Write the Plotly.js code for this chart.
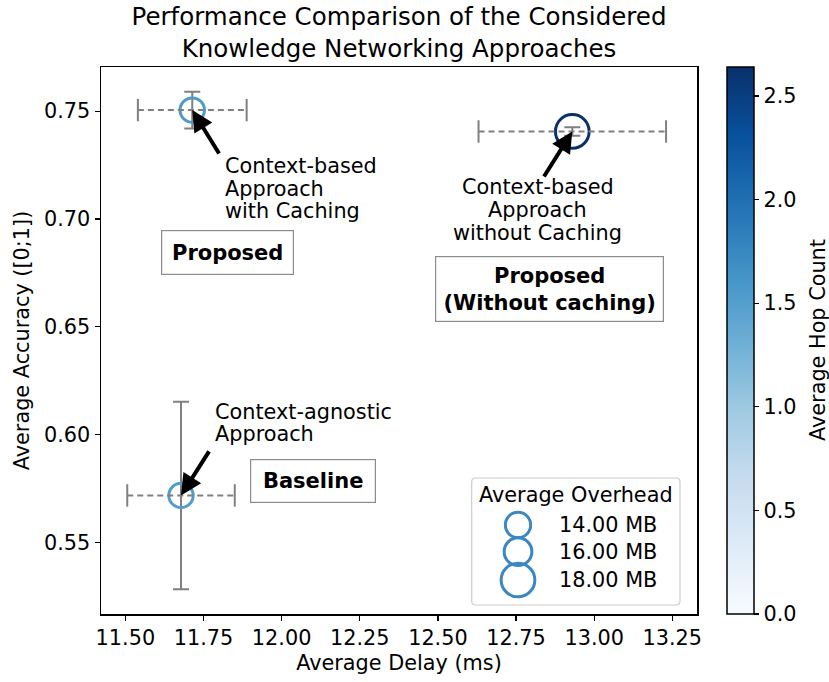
<!DOCTYPE html>
<html>
<head>
<meta charset="utf-8">
<script src="https://cdn.plot.ly/plotly-3.0.1.min.js"></script>
<style>html,body{margin:0;padding:0;background:#fff;}#chart{width:829px;height:682px;}</style>
</head>
<body>
<div id="chart"></div>
<script>
// ---- data ----
const approaches = ['Context-based Approach with Caching', 'Context-based Approach without Caching', 'Context-agnostic Approach'];
const delay = [11.714, 12.93, 11.678];          // ms
const delayErr = [0.174, 0.30, 0.172];
const accuracy = [0.7505, 0.7406, 0.5718];
const accuracyErr = [0.0085, 0.002, 0.0435];
const hopCount = [1.55, 2.64, 1.52];
const overhead = [13.3, 18.0, 13.2];            // MB
const legendOverhead = [14, 16, 18];
const legendLabels = ['14.00 MB', '16.00 MB', '18.00 MB'];
const xTicks = [11.5, 11.75, 12.0, 12.25, 12.5, 12.75, 13.0, 13.25];
const yTicks = [0.55, 0.60, 0.65, 0.70, 0.75];
const cbTicks = [0, 0.5, 1.0, 1.5, 2.0, 2.5];

// ---- styling ----
const FONT = 'DejaVu Sans, Liberation Sans, sans-serif';
const FS = 20.8;
const GRAY = '#808080';
const blues = [[0, '#f7fbff'], [0.125, '#deebf7'], [0.25, '#c6dbef'], [0.375, '#9ecae1'], [0.5, '#6baed6'], [0.625, '#4292c6'], [0.75, '#2171b5'], [0.875, '#08519c'], [1, '#08306b']];
const legendOuter = [28.3, 30.7, 36.7];  // outer diameter in px of legend circles
const RING = 3;
function outerFor(mb) {
  if (mb <= legendOverhead[0]) return legendOuter[0] + (mb - legendOverhead[0]) * 1.2;
  for (let i = 0; i < legendOverhead.length - 1; i++) {
    if (mb <= legendOverhead[i + 1]) {
      const t = (mb - legendOverhead[i]) / (legendOverhead[i + 1] - legendOverhead[i]);
      return legendOuter[i] + t * (legendOuter[i + 1] - legendOuter[i]);
    }
  }
  return legendOuter[legendOuter.length - 1];
}
const markerSizes = overhead.map(m => outerFor(m) - RING);

const PL = 101, PR = 697, PT = 67, PB = 614;
const px = v => (v - PL) / (PR - PL);
const py = v => (PB - v) / (PB - PT);

const traces = [];
traces.push({
  type: 'scatter', mode: 'markers', x: delay, y: accuracy, text: approaches,
  marker: {
    symbol: 'circle-open', size: markerSizes, color: hopCount, cmin: 0, cmax: 2.64, opacity: 1,
    colorscale: blues, line: {width: RING},
    colorbar: {
      thickness: 27, thicknessmode: 'pixels', len: 547, lenmode: 'pixels',
      x: 1.0498, xanchor: 'left', xpad: 0, y: 0, yanchor: 'bottom', ypad: 0,
      outlinewidth: 1.5, outlinecolor: '#000',
      ticks: 'outside', ticklen: 5, tickwidth: 1.2, tickcolor: '#000',
      tickvals: cbTicks, ticktext: cbTicks.map(v => v.toFixed(1)),
      tickfont: {family: FONT, size: FS, color: '#000'}
    }
  },
  error_y: {type: 'data', array: accuracyErr, visible: true, color: GRAY, thickness: 2, width: 8},
  showlegend: false, hoverinfo: 'skip'
});
for (let i = 0; i < delay.length; i++) {
  traces.push({
    type: 'scatter', mode: 'lines+markers',
    x: [delay[i] - delayErr[i], delay[i] + delayErr[i]], y: [accuracy[i], accuracy[i]],
    line: {color: GRAY, width: 2, dash: '6px,4px'},
    marker: {symbol: 'line-ns', size: 16, line: {width: 2, color: GRAY}, color: GRAY},
    showlegend: false, hoverinfo: 'skip'
  });
}

// annotations
const ann = [];
function txt(x, y, t, xanchor, opts) {
  ann.push(Object.assign({x: x, y: y, xref: 'x', yref: 'y', text: t, showarrow: false, xanchor: xanchor, yanchor: 'middle',
    font: {family: FONT, size: FS, color: '#000'}}, opts || {}));
}
txt(11.8114, 0.7246, 'Context-based', 'left');
txt(11.8114, 0.7141, 'Approach', 'left');
txt(11.8114, 0.7037, 'with Caching', 'left');
txt(12.8188, 0.7148, 'Context-based', 'center');
txt(12.8188, 0.7042, 'Approach', 'center');
txt(12.8188, 0.6935, 'without Caching', 'center');
txt(11.7794, 0.6106, 'Context-agnostic', 'left');
txt(11.7794, 0.6003, 'Approach', 'left');
// arrows: tails in data coords, tips at the data points
const tails = [[11.8028, 0.7297], [12.8364, 0.7190], [11.7708, 0.5929]];
for (let i = 0; i < delay.length; i++) {
  ann.push({x: delay[i], y: accuracy[i], xref: 'x', yref: 'y', ax: tails[i][0], ay: tails[i][1], axref: 'x', ayref: 'y',
    text: '', showarrow: true, arrowhead: 2, arrowsize: 1.05, arrowwidth: 4, arrowcolor: '#000', standoff: 0, startstandoff: 0});
}
// boxed labels
function boxed(x, y, t, w, h) {
  ann.push({x: x, y: y, xref: 'x', yref: 'y', text: t, showarrow: false, xanchor: 'center', yanchor: 'middle',
    width: w, height: h, borderpad: 0, borderwidth: 1.2, bordercolor: '#8c8c8c', bgcolor: '#fff',
    font: {family: FONT, size: 21, color: '#000'}});
}
boxed(11.8274, 0.6845, '<b>Proposed</b>', 131, 43);
boxed(12.8572, 0.6675, '<b>Proposed</b><br><b>(Without caching)</b>', 227, 64);
boxed(12.1004, 0.5785, '<b>Baseline</b>', 124, 42);

// colorbar title
ann.push({x: px(818), y: py(340), xref: 'paper', yref: 'paper', text: 'Average Hop Count', textangle: -90,
  showarrow: false, xanchor: 'center', yanchor: 'middle', font: {family: FONT, size: FS, color: '#000'}});

// size legend (rounded frame)
const bx0 = px(471.7), bx1 = px(680), by0 = py(605), by1 = py(478);
const rx = 4 / (PR - PL), ry = 4 / (PB - PT);
const framePath = `M${bx0 + rx},${by0} L${bx1 - rx},${by0} Q${bx1},${by0} ${bx1},${by0 + ry} L${bx1},${by1 - ry} Q${bx1},${by1} ${bx1 - rx},${by1} ` +
  `L${bx0 + rx},${by1} Q${bx0},${by1} ${bx0},${by1 - ry} L${bx0},${by0 + ry} Q${bx0},${by0} ${bx0 + rx},${by0} Z`;
const shapes = [{type: 'path', xref: 'paper', yref: 'paper', path: framePath,
  line: {color: '#cccccc', width: 1.2}, fillcolor: 'rgba(255,255,255,0.8)', layer: 'above'}];
const legY = [525, 551.7, 580];
ann.push({x: px(575.5), y: py(495), xref: 'paper', yref: 'paper', text: 'Average Overhead', showarrow: false,
  xanchor: 'center', yanchor: 'middle', font: {family: FONT, size: FS, color: '#000'}});
for (let i = 0; i < legendOverhead.length; i++) {
  const r = (outerFor(legendOverhead[i]) - RING) / 2;
  shapes.push({type: 'circle', xref: 'paper', yref: 'paper', xsizemode: 'pixel', ysizemode: 'pixel',
    xanchor: px(518), yanchor: py(legY[i]), x0: -r, x1: r, y0: -r, y1: r,
    line: {color: '#3a87c4', width: RING}, fillcolor: 'rgba(0,0,0,0)', layer: 'above'});
  ann.push({x: px(556.7), y: py(legY[i]), xref: 'paper', yref: 'paper', text: legendLabels[i], showarrow: false,
    xanchor: 'left', yanchor: 'middle', font: {family: FONT, size: FS, color: '#000'}});
}

const axisCommon = {
  showline: true, mirror: true, linecolor: '#000', linewidth: 1.5, showgrid: false, zeroline: false,
  ticks: 'outside', ticklen: 5, tickwidth: 1.2, tickcolor: '#000',
  tickfont: {family: FONT, size: FS, color: '#000'}, tickformat: '.2f'
};
const layout = {
  width: 829, height: 682, paper_bgcolor: '#fff', plot_bgcolor: '#fff',
  margin: {l: PL, r: 829 - PR, t: PT, b: 682 - PB, pad: 0},
  showlegend: false, hovermode: false,
  font: {family: FONT, color: '#000'},
  title: {text: 'Performance Comparison of the Considered<br>Knowledge Networking Approaches',
    x: (PL + PR) / 2 / 829, xanchor: 'center', y: 1 - 25 / 682, yanchor: 'middle', yref: 'container',
    font: {family: FONT, size: 24.5, color: '#000'}},
  xaxis: Object.assign({}, axisCommon, {range: [11.422, 13.329], tickvals: xTicks,
    title: {text: 'Average Delay (ms)', font: {family: FONT, size: FS, color: '#000'}, standoff: 6}}),
  yaxis: Object.assign({}, axisCommon, {range: [0.5168, 0.7705], tickvals: yTicks,
    title: {text: 'Average Accuracy ([0;1])', font: {family: FONT, size: FS, color: '#000'}, standoff: 8}}),
  annotations: ann, shapes: shapes
};
Plotly.newPlot('chart', traces, layout, {displayModeBar: false, staticPlot: true});
</script>
</body>
</html>
